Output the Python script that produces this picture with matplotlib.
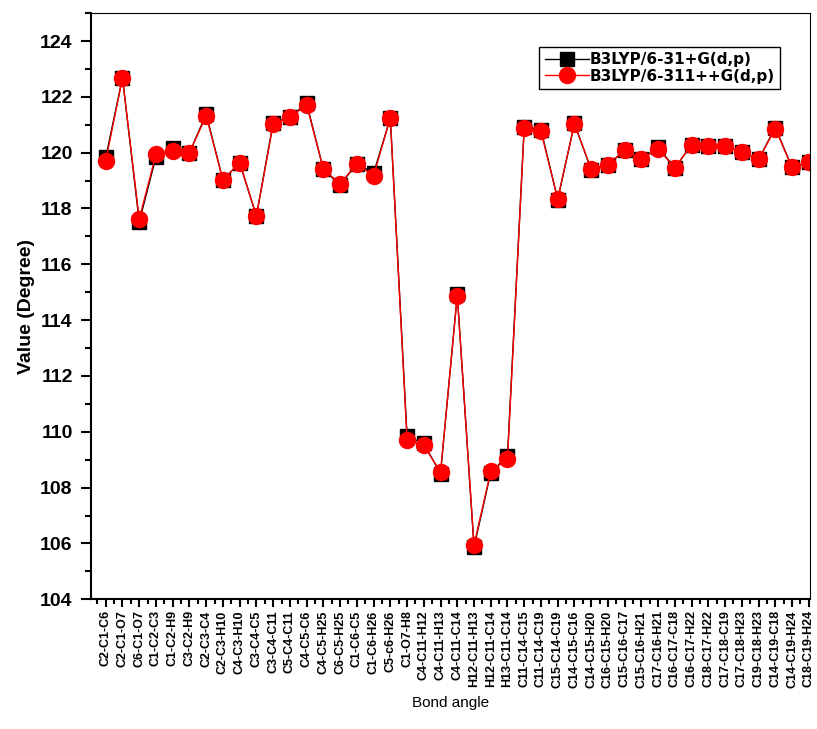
import matplotlib.pyplot as plt
from matplotlib.ticker import AutoMinorLocator, MultipleLocator

plt.rcParams["font.family"] = ["Liberation Sans", "DejaVu Sans"]

bond_angles = [
    "C2-C1-C6", "C2-C1-O7", "C6-C1-O7", "C1-C2-C3", "C1-C2-H9", "C3-C2-H9",
    "C2-C3-C4", "C2-C3-H10", "C4-C3-H10", "C3-C4-C5", "C3-C4-C11", "C5-C4-C11",
    "C4-C5-C6", "C4-C5-H25", "C6-C5-H25", "C1-C6-C5", "C1-C6-H26", "C5-c6-H26",
    "C1-O7-H8", "C4-C11-H12", "C4-C11-H13", "C4-C11-C14", "H12-C11-H13",
    "H12-C11-C14", "H13-C11-C14", "C11-C14-C15", "C11-C14-C19", "C15-C14-C19",
    "C14-C15-C16", "C14-C15-H20", "C16-C15-H20", "C15-C16-C17", "C15-C16-H21",
    "C17-C16-H21", "C16-C17-C18", "C16-C17-H22", "C18-C17-H22", "C17-C18-C19",
    "C17-C18-H23", "C19-C18-H23", "C14-C19-C18", "C14-C19-H24", "C18-C19-H24",
]

b3lyp_631 = [
    119.83, 122.68, 117.52, 119.85, 120.15, 120.00, 121.38, 119.02, 119.64,
    117.73, 121.07, 121.27, 121.77, 119.41, 118.84, 119.61, 119.26, 121.24,
    109.84, 109.58, 108.50, 114.92, 105.87, 108.54, 109.13, 120.93, 120.83,
    118.32, 121.05, 119.38, 119.57, 120.08, 119.77, 120.19, 119.45, 120.29,
    120.25, 120.25, 120.01, 119.76, 120.90, 119.47, 119.67,
]

b3lyp_6311 = [
    119.71, 122.68, 117.63, 119.94, 120.07, 120.00, 121.32, 119.02, 119.64,
    117.73, 121.01, 121.27, 121.71, 119.41, 118.88, 119.61, 119.17, 121.24,
    109.72, 109.51, 108.56, 114.87, 105.94, 108.59, 109.02, 120.89, 120.76,
    118.35, 121.03, 119.41, 119.57, 120.08, 119.77, 120.14, 119.45, 120.29,
    120.25, 120.25, 120.01, 119.76, 120.86, 119.47, 119.67,
]

fig = plt.figure(figsize=(8.17, 7.29), dpi=100)
ax = fig.add_axes([0.111, 0.178, 0.881, 0.804])

x = range(len(bond_angles))
ax.plot(x, b3lyp_631, color="black", lw=1, marker="s", ms=10,
        mfc="black", mec="black", label="B3LYP/6-31+G(d,p)")
ax.plot(x, b3lyp_6311, color="red", lw=1, marker="o", ms=11.5,
        mfc="red", mec="red", label="B3LYP/6-311++G(d,p)")

ax.set_xlim(-0.9, 42.1)
ax.set_ylim(104, 125)
ax.set_xticks(list(x))
ax.set_xticklabels(bond_angles, rotation=90, fontsize=9, fontweight="bold")
ax.xaxis.set_minor_locator(AutoMinorLocator(2))
ax.yaxis.set_major_locator(MultipleLocator(2))
ax.yaxis.set_minor_locator(MultipleLocator(1))

for label in ax.get_yticklabels():
    label.set_fontweight("bold")
    label.set_fontsize(14)

ax.tick_params(axis="y", which="major", direction="out", length=7, width=1.5, pad=6)
ax.tick_params(axis="y", which="minor", direction="out", length=4, width=1.5)
ax.tick_params(axis="x", which="major", direction="out", length=6, width=1.5, pad=2)
ax.tick_params(axis="x", which="minor", direction="out", length=3.5, width=1.5)
for side in ["left", "bottom"]:
    ax.spines[side].set_linewidth(1.5)

ax.set_ylabel("Value (Degree)", fontsize=14, fontweight="bold", labelpad=4)
ax.set_xlabel("Bond angle", fontsize=11, labelpad=6)

ax.legend(loc="upper right", bbox_to_anchor=(0.958, 0.942),
          prop={"family": "DejaVu Sans", "weight": "bold", "size": 11},
          frameon=True, fancybox=False, framealpha=1, edgecolor="black",
          handlelength=2.9, handletextpad=0.05, borderpad=0.35,
          labelspacing=0.08, borderaxespad=0.0)

fig.savefig("out.png", dpi=100)
